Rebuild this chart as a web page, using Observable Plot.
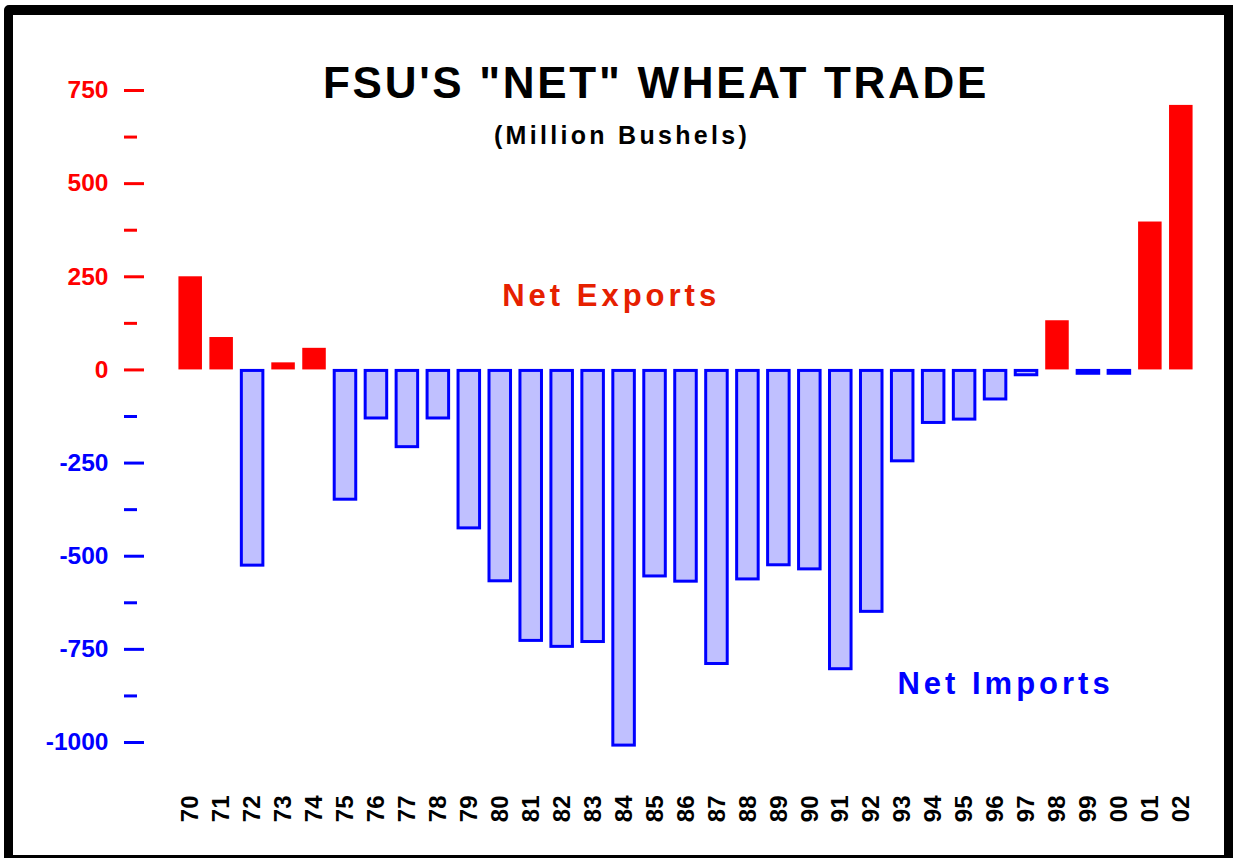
<!DOCTYPE html>
<html>
<head>
<meta charset="utf-8">
<script src="https://cdn.jsdelivr.net/npm/d3@7"></script>
<script src="https://cdn.jsdelivr.net/npm/@observablehq/plot@0.6"></script>
<style>
  html, body { margin: 0; padding: 0; background: #fff; }
  body { width: 1233px; height: 858px; position: relative; overflow: hidden; font-family: "Liberation Sans", Arial, sans-serif; }
  #chart { position: absolute; left: 0; top: 0; }
  #frame { position: absolute; left: 4px; top: 5px; width: 1211px; height: 840px;
           border-left: 9px solid #000; border-top: 10px solid #000; border-right: 10px solid #000; border-bottom: 10px solid #000;
           border-radius: 5px 0 0 0; pointer-events: none; }
  .title { position: absolute; font-weight: bold; color: #000; white-space: nowrap; transform: translateX(-50%); }
  #t1 { left: 656px; top: 58px; font-size: 44px; letter-spacing: 2.7px; }
  #t2 { left: 622px; top: 121px; font-size: 25px; letter-spacing: 3.3px; }
</style>
</head>
<body>
<div id="chart"></div>
<div id="t1" class="title">FSU'S "NET" WHEAT TRADE</div>
<div id="t2" class="title">(Million Bushels)</div>
<div id="frame"></div>
<script>
const years = ["70","71","72","73","74","75","76","77","78","79","80","81","82","83","84","85","86","87","88","89","90","91","92","93","94","95","96","97","98","99","00","01","02"];
const netTrade = [250, 87, -528, 19, 58, -351, -133, -210, -133, -428, -570, -730, -746, -733, -1011, -557, -571, -792, -565, -527, -538, -806, -652, -248, -145, -136, -82, -17, 132, -13, -13, 397, 710];
const posTicks = [0, 250, 500, 750];
const negTicks = [-250, -500, -750, -1000];
const posMinor = [125, 375, 625];
const negMinor = [-125, -375, -625, -875];
const exportLabel = [{year: "83", value: 199, text: "Net Exports"}];
const importLabel = [{year: "96", value: -843, text: "Net Imports"}];

const data = years.map((y, i) => ({year: y, value: netTrade[i]}));
const exportsData = data.filter(d => d.value >= 0);
const importsData = data.filter(d => d.value < 0);
const font = "Liberation Sans, Arial, sans-serif";

const axisCommon = {tickSize: 20, tickPadding: 16, dx: -27, strokeWidth: 3, fontSize: 24.5, fontWeight: "bold", fontFamily: font, tickFormat: d => String(d), label: null};
const labelStyle = {x: "year", y: "value", text: "text", fontSize: 31, fontWeight: "bold", fontFamily: font};

const plot = Plot.plot({
  width: 1233,
  height: 858,
  marginLeft: 171,
  marginRight: 33,
  marginTop: 90,
  marginBottom: 116,
  style: {fontFamily: font, background: "transparent", overflow: "visible"},
  x: {domain: years, padding: 0.24},
  y: {domain: [-1000, 750]},
  marks: [
    Plot.barY(exportsData, {x: "year", y: "value", fill: "#ff0000"}),
    Plot.barY(importsData, {x: "year", y: "value", fill: "#c0c0ff", stroke: "#0000ff", strokeWidth: 3, inset: 1}),
    Plot.axisY(posTicks, {...axisCommon, color: "#ff0000"}),
    Plot.axisY(negTicks, {...axisCommon, color: "#0000ff"}),
    Plot.axisY(posMinor, {tickSize: 13, dx: -34, strokeWidth: 3, color: "#ff0000", text: null, label: null}),
    Plot.axisY(negMinor, {tickSize: 13, dx: -34, strokeWidth: 3, color: "#0000ff", text: null, label: null}),
    Plot.axisX({tickSize: 0, tickRotate: -90, tickPadding: 53, fontSize: 24, fontWeight: "bold", fontFamily: font, color: "#000", label: null}),
    Plot.text(exportLabel, {...labelStyle, fill: "#e62000", dx: 18}),
    Plot.text(importLabel, {...labelStyle, fill: "#0000ff", dx: 10})
  ]
});
document.getElementById("chart").appendChild(plot);
const labelTexts = exportLabel.concat(importLabel).map(d => d.text);
d3.select(plot).selectAll("text")
  .filter(function() { return labelTexts.includes(this.textContent); })
  .style("letter-spacing", "4px");
</script>
</body>
</html>
